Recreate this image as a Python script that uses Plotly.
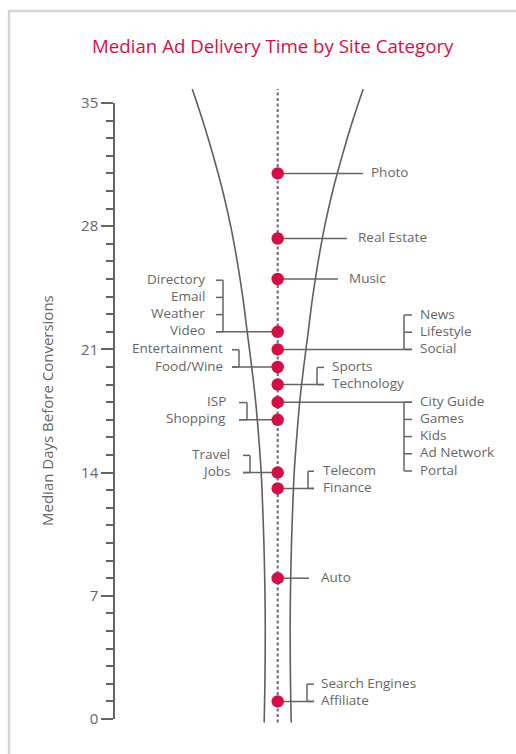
import plotly.graph_objects as go

# ---------------- data ----------------
categories = ["Photo", "Real Estate", "Music",
              "Directory", "Email", "Weather", "Video",
              "News", "Lifestyle", "Social",
              "Entertainment", "Food/Wine",
              "Sports", "Technology",
              "City Guide", "Games", "Kids", "Ad Network", "Portal",
              "ISP", "Shopping",
              "Travel", "Jobs",
              "Telecom", "Finance",
              "Auto",
              "Search Engines", "Affiliate"]
days = [31.0, 27.3, 25.0,
        22.0, 22.0, 22.0, 22.0,
        21.0, 21.0, 21.0,
        20.0, 20.0,
        19.0, 19.0,
        18.0, 18.0, 18.0, 18.0, 18.0,
        17.0, 17.0,
        14.0, 14.0,
        13.1, 13.1,
        8.0,
        1.0, 1.0]
tick_values = [0, 7, 14, 21, 28, 35]

# funnel outline: day value and half-width (px)
funnel_days = [35.8, 34, 32, 30, 28, 26, 24, 22, 20, 18, 16, 14, 12, 10, 8, 6, 4, 2, -0.2]
funnel_half = [85.5, 75, 64.5, 55, 47, 40.5, 35, 30.5, 26, 22, 19, 16.5, 15, 13.8, 13, 12.5, 12.5, 12.8, 13.5]

# ---------------- layout constants (pixels) ----------------
W, H = 516, 754
Y0_PX, Y35_PX = 719, 103
PX_PER_DAY = (Y0_PX - Y35_PX) / 35.0
CENTER_X = 277.7
LABEL_STEP = 17.2 / PX_PER_DAY

FONT = "Segoe UI, Open Sans, sans-serif"
TEXT_C = "#666666"
LINE_C = "#646464"
RED = "#D40F45"

group_layout = {
    31.0: dict(side="right", end=363, text=370),
    27.3: dict(side="right", end=347, text=357),
    25.0: dict(side="right", end=338, text=348),
    22.0: dict(side="left", bracket=223, tick=216, text=206, stack="up"),
    21.0: dict(side="right", bracket=404, tick=412, text=419, stack="up"),
    20.0: dict(side="left", bracket=239, tick=232, text=224, stack="up"),
    19.0: dict(side="right", bracket=317, tick=324, text=331, stack="up"),
    18.0: dict(side="right", bracket=404, tick=412, text=419, stack="down"),
    17.0: dict(side="left", bracket=247, tick=239, text=227, stack="up"),
    14.0: dict(side="left", bracket=250, tick=243, text=231, stack="up"),
    13.1: dict(side="right", bracket=308, tick=314, text=322, stack="up"),
    8.0: dict(side="right", end=309, text=320),
    1.0: dict(side="right", bracket=307, tick=314, text=320, stack="up"),
}

# group categories by value (keeping order)
groups = {}
for c, d in zip(categories, days):
    groups.setdefault(d, []).append(c)

fig = go.Figure()

# funnel
for sign in (-1, 1):
    fig.add_trace(go.Scatter(x=[CENTER_X + sign * h for h in funnel_half], y=funnel_days,
                             mode="lines", line=dict(color="#5f5f5f", width=1.6, shape="spline"),
                             xaxis="x2", yaxis="y2", hoverinfo="skip", showlegend=False))
# dotted centre line
fig.add_trace(go.Scatter(x=[CENTER_X, CENTER_X], y=[funnel_days[-1], funnel_days[0]],
                         mode="lines", line=dict(color="#6a6a6a", width=2, dash="3px,2.5px"),
                         xaxis="x2", yaxis="y2", hoverinfo="skip", showlegend=False))

# connectors and labels
lx, ly = [], []
annotations = []
for val, names in groups.items():
    g = group_layout[val]
    n = len(names)
    if n == 1 and "end" in g:
        lx += [CENTER_X, g["end"], None]
        ly += [val, val, None]
        label_pos = [val]
    else:
        if g["stack"] == "up":
            label_pos = [val + (n - 1 - k) * LABEL_STEP for k in range(n)]
        else:
            label_pos = [val - k * LABEL_STEP for k in range(n)]
        lx += [CENTER_X, g["tick"], None]
        ly += [val, val, None]
        lx += [g["bracket"], g["bracket"], None]
        ly += [min(label_pos), max(label_pos), None]
        for p in label_pos:
            lx += [g["bracket"], g["tick"], None]
            ly += [p, p, None]
    for name, p in zip(names, label_pos):
        annotations.append(dict(x=g["text"], y=p, xref="x2", yref="y2", text=name,
                                showarrow=False, borderpad=0, yshift=1.5,
                                xanchor="left" if g["side"] == "right" else "right",
                                yanchor="middle",
                                font=dict(family=FONT, size=13.5, color=TEXT_C)))

fig.add_trace(go.Scatter(x=lx, y=ly, mode="lines", line=dict(color=LINE_C, width=1.5),
                         xaxis="x2", yaxis="y2", hoverinfo="skip", showlegend=False))

uniq = list(groups.keys())
fig.add_trace(go.Scatter(x=[CENTER_X] * len(uniq), y=uniq, mode="markers",
                         marker=dict(color=RED, size=12.5, line=dict(width=0)),
                         text=[", ".join(groups[v]) for v in uniq],
                         xaxis="x2", yaxis="y2", showlegend=False))

# visible axis subplot (empty trace)
fig.add_trace(go.Scatter(x=[], y=[], xaxis="x", yaxis="y", showlegend=False))

# title & axis title
annotations.append(dict(x=272.5 / W, y=(H - 45) / H, xref="paper", yref="paper",
                        text="Median Ad Delivery Time by Site Category", showarrow=False,
                        xanchor="center", yanchor="middle",
                        font=dict(family=FONT, size=18.7, color=RED)))
annotations.append(dict(x=47 / W, y=(H - 411) / H, xref="paper", yref="paper",
                        text="Median Days Before Conversions", showarrow=False, textangle=-90,
                        xanchor="center", yanchor="middle",
                        font=dict(family=FONT, size=15, color=TEXT_C)))

fig.update_layout(
    width=W, height=H, margin=dict(l=0, r=0, t=0, b=0, pad=0, autoexpand=False),
    paper_bgcolor="white", plot_bgcolor="rgba(0,0,0,0)",
    showlegend=False,
    xaxis=dict(domain=[115 / W, 0.97], range=[0, 1], visible=False, anchor="y", automargin=False),
    yaxis=dict(domain=[(H - Y0_PX) / H, (H - Y35_PX) / H], range=[0, 35], anchor="x",
               automargin=False,
               tickmode="array", tickvals=tick_values, ticks="outside", ticklen=12,
               tickwidth=1.5, tickcolor=LINE_C, showline=True, linecolor=LINE_C, linewidth=1.5,
               showgrid=False, zeroline=False,
               tickfont=dict(family=FONT, size=15, color=TEXT_C),
               minor=dict(dtick=1, tick0=0, ticks="outside", ticklen=7, tickwidth=1.5,
                          tickcolor=LINE_C, showgrid=False)),
    xaxis2=dict(domain=[0, 1], range=[0, W], visible=False, anchor="y2", automargin=False),
    yaxis2=dict(domain=[0, 1], range=[(Y0_PX - H) / PX_PER_DAY, Y0_PX / PX_PER_DAY],
                visible=False, anchor="x2", automargin=False),
    annotations=annotations,
    shapes=[dict(type="rect", xref="paper", yref="paper",
                 x0=9 / W, x1=1.3, y0=-0.3, y1=(H - 11) / H,
                 line=dict(color="#d6d6d6", width=2.5), fillcolor="rgba(0,0,0,0)", layer="below")],
)

fig.write_html("out.html")
